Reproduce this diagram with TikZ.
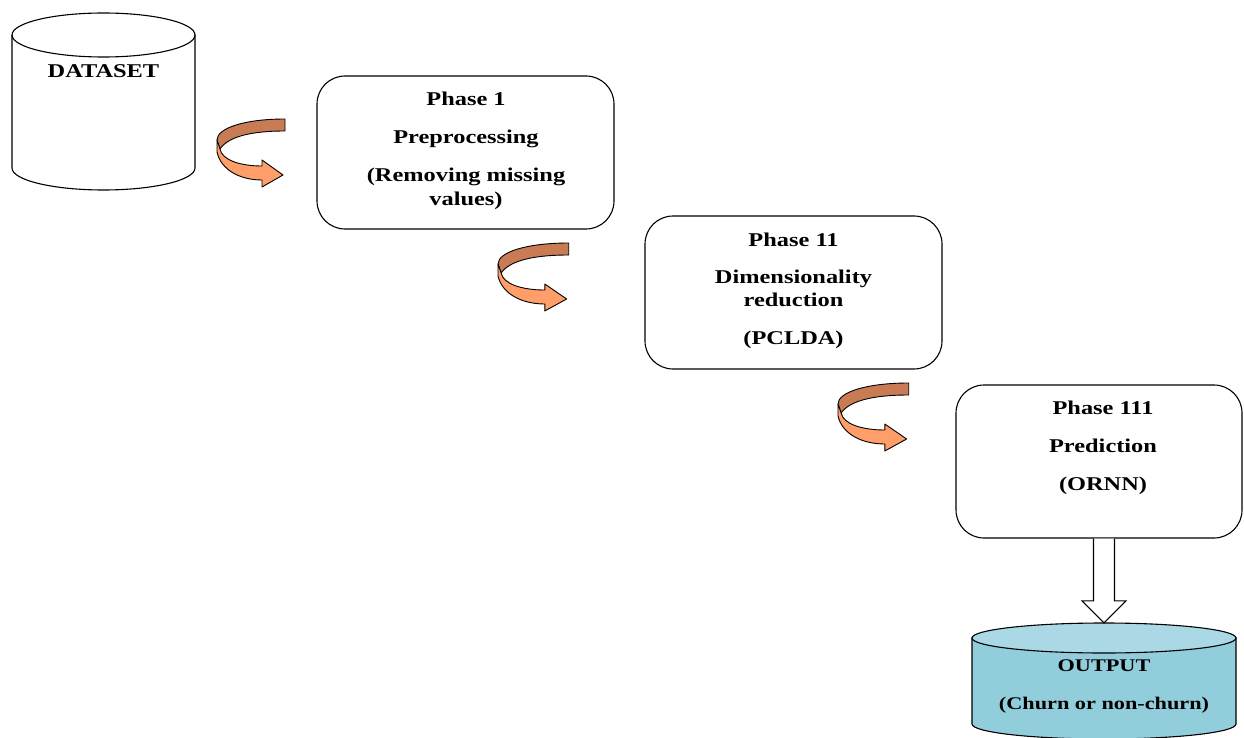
\documentclass[tikz,border=0pt]{standalone}
\usepackage{fontspec}
\setmainfont{Liberation Serif}[FakeStretch=1.25]
\usetikzlibrary{calc}
\definecolor{ribdark}{RGB}{201,124,84}
\definecolor{riblight}{RGB}{255,158,104}
\definecolor{outbody}{RGB}{146,205,220}
\definecolor{outtop}{RGB}{170,216,228}
\tikzset{
  txt/.style={font=\fontsize{19.5}{23}\selectfont\bfseries, inner sep=0pt, anchor=base},
  otxt/.style={font=\fontsize{17.8}{21}\selectfont\bfseries, inner sep=0pt, anchor=base},
  phasebox/.style={draw, line width=1.1pt, rounded corners=28pt, minimum width=297pt, minimum height=153pt, inner sep=0pt},
  outline/.style={line width=1.1pt, draw=black},
  curvarrow/.pic={
    \filldraw[fill=ribdark, line width=0.9pt, line join=round]
      (68,0) .. controls (28,0) and (0,9) .. (0,21) -- (3,30)
      .. controls (11,18) and (33,12) .. (68,12) -- cycle;
    \filldraw[fill=riblight, line width=0.9pt, line join=round]
      (0,21) -- (0,33) .. controls (4,51) and (23,61) .. (45,61)
      -- (45,68) -- (66,56) -- (45,41) -- (45,47)
      .. controls (23,47) and (5,41) .. (3,30) -- cycle;
  }
}
\begin{document}
\begin{tikzpicture}[x=1pt,y=-1pt]
\useasboundingbox (0,0) rectangle (1244,738);

% DATASET cylinder
\node[minimum width=183pt, minimum height=177pt, inner sep=0pt] (ds) at (103.5,101.5) {};
\draw[outline, fill=white] (12,35) -- (12,168) arc[start angle=180, end angle=0, x radius=91.5, y radius=22] -- (195,35);
\draw[outline] (103.5,35) ellipse [x radius=91.5, y radius=22];
\node[txt] (dst) at (103.5,78) {DATASET};

% Phase boxes
\node[phasebox] (p1) at (465.5,152.5) {};
\node[phasebox] (p2) at (793.5,292.5) {};
\node[phasebox, minimum width=286pt] (p3) at (1099,461.5) {};

\node[txt] (p1a) at (466,105.5) {Phase 1};
\node[txt] (p1b) at (466,143.5) {Preprocessing};
\node[txt] (p1c) at (466,182) {(Removing missing};
\node[txt] (p1d) at (466,205) {values)};

\node[txt] (p2a) at (793.5,246.5) {Phase 11};
\node[txt] (p2b) at (793.5,283.5) {Dimensionality};
\node[txt] (p2c) at (793.5,306.5) {reduction};
\node[txt] (p2d) at (793.5,344.5) {(PCLDA)};

\node[txt] (p3a) at (1103,414.5) {Phase 111};
\node[txt] (p3b) at (1103,452.5) {Prediction};
\node[txt] (p3c) at (1103,490.5) {(ORNN)};

% curved arrows
\pic at (217,119) {curvarrow};
\pic[xscale=1.04] at (498,243) {curvarrow};
\pic[xscale=1.04] at (838,383) {curvarrow};

% OUTPUT cylinder
\node[minimum width=264pt, minimum height=116pt, inner sep=0pt] (out) at (1104,681) {};
\filldraw[outline, fill=outbody] (972,638) -- (972,724) arc[start angle=180, end angle=0, x radius=132, y radius=15] -- (1236,638) -- cycle;
\filldraw[outline, fill=outtop] (1104,638) ellipse [x radius=132, y radius=15];
\node[otxt] (o1) at (1104,671.5) {OUTPUT};
\node[otxt] (o2) at (1104,709.5) {(Churn or non-churn)};

% hollow arrow from Phase 111 to OUTPUT
\draw[outline, fill=white, line join=miter]
  ($(out.north |- p3.south)+(-10.5,0)$) -- ($(out.north)+(-10.5,-22)$) -- ($(out.north)+(-22,-22)$)
  -- (out.north) -- ($(out.north)+(22,-22)$) -- ($(out.north)+(10.5,-22)$)
  -- ($(out.north |- p3.south)+(10.5,0)$);
\end{tikzpicture}
\end{document}
